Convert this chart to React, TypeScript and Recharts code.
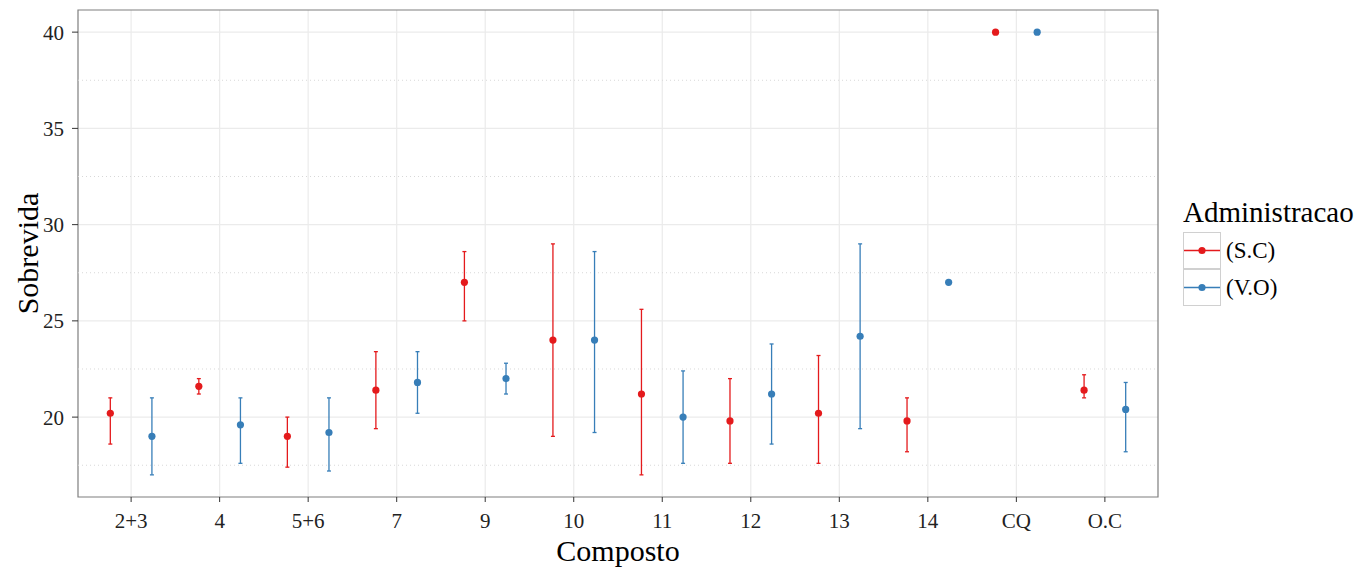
import React from 'react';
import {
  ComposedChart,
  Scatter,
  ErrorBar,
  XAxis,
  YAxis,
  CartesianGrid,
  ReferenceLine,
  ReferenceArea,
} from 'recharts';

const categories = ['2+3', '4', '5+6', '7', '9', '10', '11', '12', '13', '14', 'CQ', 'O.C'];

// (S.C) means and interval bounds
const scMean = [20.2, 21.6, 19.0, 21.4, 27.0, 24.0, 21.2, 19.8, 20.2, 19.8, 40, 21.4];
const scLow = [18.6, 21.2, 17.4, 19.4, 25.0, 19.0, 17.0, 17.6, 17.6, 18.2, 40, 21.0];
const scHigh = [21.0, 22.0, 20.0, 23.4, 28.6, 29.0, 25.6, 22.0, 23.2, 21.0, 40, 22.2];

// (V.O) means and interval bounds
const voMean = [19.0, 19.6, 19.2, 21.8, 22.0, 24.0, 20.0, 21.2, 24.2, 27.0, 40, 20.4];
const voLow = [17.0, 17.6, 17.2, 20.2, 21.2, 19.2, 17.6, 18.6, 19.4, 27.0, 40, 18.2];
const voHigh = [21.0, 21.0, 21.0, 23.4, 22.8, 28.6, 22.4, 23.8, 29.0, 27.0, 40, 21.8];

const yTicks = [20, 25, 30, 35, 40];
const yMinor = [17.5, 22.5, 27.5, 32.5, 37.5];

const series = [
  { name: '(S.C)', color: '#E41A1C' },
  { name: '(V.O)', color: '#377EB8' },
];

const FONT = '"Liberation Serif", "DejaVu Serif", serif';
const DODGE = 0.235;
const X_DOMAIN: [number, number] = [0.4, 12.6];
const Y_DOMAIN: [number, number] = [15.85, 41.15];

const buildRows = (mean: number[], low: number[], high: number[], shift: number) =>
  mean.map((m, i) => ({
    x: i + 1 + shift,
    y: m,
    err: [m - low[i], high[i] - m],
  }));

const scData = buildRows(scMean, scLow, scHigh, -DODGE);
const voData = buildRows(voMean, voLow, voHigh, DODGE);

const dot = (color: string) => (props: any) => (
  <circle cx={props.cx} cy={props.cy} r={3.6} fill={color} />
);

// ggplot-style legend drawn beside the panel
const LegendBox = () => (
  <div
    style={{
      position: 'absolute',
      left: 1183,
      top: 195,
      fontFamily: FONT,
      color: '#000',
    }}
  >
    <div style={{ fontSize: 29, lineHeight: '34px', height: 37, whiteSpace: 'nowrap' }}>
      Administracao
    </div>
    {series.map((s) => (
      <div key={s.name} style={{ display: 'flex', alignItems: 'center', height: 37 }}>
        <svg width={38} height={37} style={{ display: 'block' }}>
          <rect x={0.5} y={0.5} width={37} height={36} fill="#fff" stroke="#d0d0d0" />
          <line x1={1} y1={18.5} x2={37} y2={18.5} stroke={s.color} strokeWidth={1.3} />
          <circle cx={19} cy={18.5} r={3.6} fill={s.color} />
        </svg>
        <span style={{ fontSize: 23, marginLeft: 5, whiteSpace: 'nowrap' }}>{s.name}</span>
      </div>
    ))}
  </div>
);

export default function App() {
  return (
    <div style={{ position: 'absolute', left: 0, top: 0, width: 1362, height: 570, background: '#fff' }}>
      <ComposedChart
        width={1362}
        height={570}
        margin={{ top: 10, right: 204, bottom: 0, left: 0 }}
      >
        <CartesianGrid
          stroke="#ebebeb"
          strokeWidth={1.2}
          horizontalValues={yTicks}
          verticalValues={categories.map((_, i) => i + 1)}
        />
        {yMinor.map((v) => (
          <ReferenceLine
            key={v}
            y={v}
            stroke="#d8d8d8"
            strokeDasharray="1 3"
          />
        ))}
        <XAxis
          type="number"
          dataKey="x"
          domain={X_DOMAIN}
          ticks={categories.map((_, i) => i + 1)}
          tickFormatter={(v: number) => categories[Math.round(v) - 1] ?? ''}
          allowDataOverflow
          height={73}
          axisLine={false}
          tickLine={{ stroke: '#333' }}
          tickSize={5}
          tickMargin={11}
          tick={{ fill: '#222', fontSize: 21, fontFamily: FONT }}
          interval={0}
          label={{
            value: 'Composto',
            position: 'center',
            dy: 17,
            style: { fontSize: 30, fontFamily: FONT, fill: '#000' },
          }}
        />
        <YAxis
          type="number"
          domain={Y_DOMAIN}
          ticks={yTicks}
          allowDataOverflow
          width={78}
          axisLine={false}
          tickLine={{ stroke: '#333' }}
          tickSize={6}
          tickMargin={8}
          tick={{ fill: '#222', fontSize: 21, fontFamily: FONT }}
          label={{
            value: 'Sobrevida',
            angle: -90,
            position: 'center',
            dx: -12,
            style: { fontSize: 30, fontFamily: FONT, fill: '#000', textAnchor: 'middle' },
          }}
        />
        <ReferenceArea
          x1={X_DOMAIN[0]}
          x2={X_DOMAIN[1]}
          y1={Y_DOMAIN[0]}
          y2={Y_DOMAIN[1]}
          fill="none"
          stroke="#7f7f7f"
          strokeWidth={1.2}
        />
        <Scatter
          name={series[0].name}
          data={scData}
          dataKey="y"
          fill={series[0].color}
          shape={dot(series[0].color)}
          isAnimationActive={false}
        >
          <ErrorBar
            dataKey="err"
            direction="y"
            width={2}
            stroke={series[0].color}
            strokeWidth={1.3}
            isAnimationActive={false}
          />
        </Scatter>
        <Scatter
          name={series[1].name}
          data={voData}
          dataKey="y"
          fill={series[1].color}
          shape={dot(series[1].color)}
          isAnimationActive={false}
        >
          <ErrorBar
            dataKey="err"
            direction="y"
            width={2}
            stroke={series[1].color}
            strokeWidth={1.3}
            isAnimationActive={false}
          />
        </Scatter>
      </ComposedChart>
      <LegendBox />
    </div>
  );
}
